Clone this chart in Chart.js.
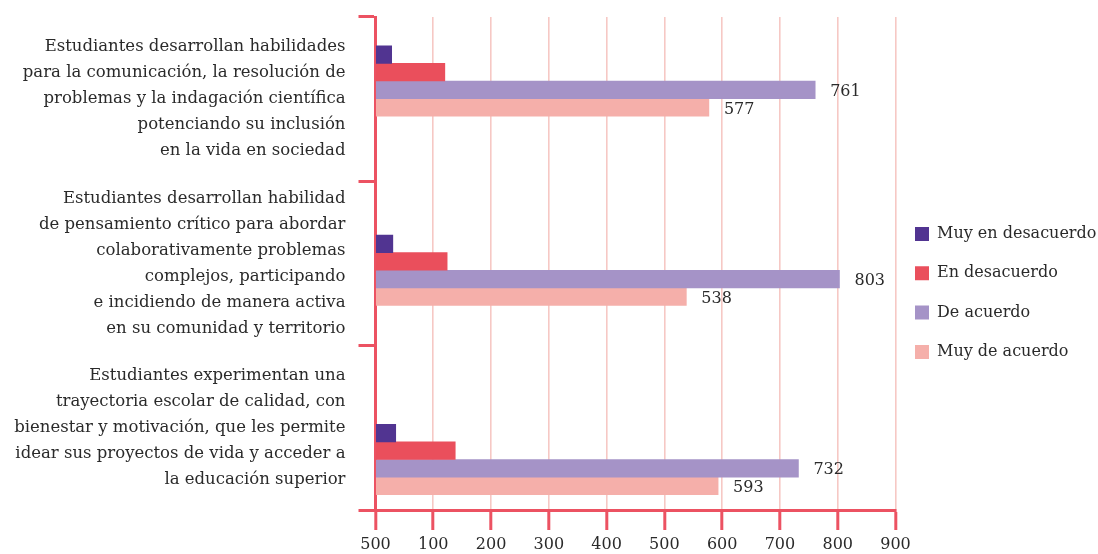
<!DOCTYPE html>
<html>
<head>
<meta charset="utf-8">
<script src="https://cdn.jsdelivr.net/npm/chart.js@4"></script>
<style>
  html, body { margin: 0; padding: 0; background: #ffffff; }
  #wrap { width: 1098px; height: 554px; }
</style>
</head>
<body>
<div id="wrap"><canvas id="c" width="1098" height="554"></canvas></div>
<script>
// Survey statements (multi-line category labels)
const categories = [
  ["Estudiantes desarrollan habilidades", "para la comunicación, la resolución de", "problemas y la indagación científica", "potenciando su inclusión", "en la vida en sociedad"],
  ["Estudiantes desarrollan habilidad", "de pensamiento crítico para abordar", "colaborativamente problemas", "complejos, participando", "e incidiendo de manera activa", "en su comunidad y territorio"],
  ["Estudiantes experimentan una", "trayectoria escolar de calidad, con", "bienestar y motivación, que les permite", "idear sus proyectos de vida y acceder a", "la educación superior"]
];

const seriesNames = ["Muy en desacuerdo", "En desacuerdo", "De acuerdo", "Muy de acuerdo"];

// Responses per statement
const muyEnDesacuerdo = [28, 30, 35];
const enDesacuerdo = [120, 124, 138];
const deAcuerdo = [761, 803, 732];
const muyDeAcuerdo = [577, 538, 593];

const xTickLabels = ["500", "100", "200", "300", "400", "500", "600", "700", "800", "900"];

// Series whose values are written next to the bars
const labelledSeries = ["De acuerdo", "Muy de acuerdo"];

const seriesColors = ["#513491", "#ea4f5c", "#a593c7", "#f5afaa"];
const axisRed = "#ec5262";
const gridPink = "#f6c8c4";
const textColor = "#2a2a2a";
const serif = "'DejaVu Serif', 'Liberation Serif', serif";

const seriesValues = [muyEnDesacuerdo, enDesacuerdo, deAcuerdo, muyDeAcuerdo];

const datasets = seriesNames.map((name, s) => ({
  label: name,
  data: seriesValues[s].map((v, i) => ({ x: v, y: i })),
  backgroundColor: seriesColors[s],
  borderWidth: 0,
  yAxisID: "yBars",
  barThickness: 17.6
}));

// Value labels to the right of the bar ends
const valueLabels = {
  id: "valueLabels",
  afterDatasetsDraw(chart) {
    const ctx = chart.ctx;
    ctx.save();
    ctx.font = "16px " + serif;
    ctx.fillStyle = textColor;
    ctx.textAlign = "left";
    ctx.textBaseline = "middle";
    chart.data.datasets.forEach((ds, di) => {
      if (!labelledSeries.includes(ds.label)) return;
      const meta = chart.getDatasetMeta(di);
      meta.data.forEach((bar, i) => {
        ctx.fillText(String(ds.data[i].x), bar.x + 15, bar.y + 2);
      });
    });
    ctx.restore();
  }
};

new Chart(document.getElementById("c"), {
  type: "bar",
  data: { datasets },
  plugins: [valueLabels],
  options: {
    indexAxis: "y",
    responsive: false,
    animation: false,
    devicePixelRatio: 1,
    layout: { padding: { top: 17, left: 0, right: 0, bottom: 0 } },
    plugins: {
      tooltip: { enabled: false },
      legend: {
        position: "right",
        align: "center",
        maxWidth: 202.5,
        title: { display: true, text: " ", font: { size: 10, lineHeight: 1 }, padding: { top: 8.7, bottom: 0 } },
        labels: {
          boxWidth: 14,
          boxHeight: 14,
          padding: 19.5,
          color: textColor,
          font: { family: serif, size: 16, lineHeight: 19.8 / 16 },
          // single-line arrays so each entry takes the font line height
          generateLabels(chart) {
            const items = Chart.defaults.plugins.legend.labels.generateLabels(chart);
            items.forEach(it => { it.text = [it.text]; });
            return items;
          }
        }
      }
    },
    scales: {
      x: {
        type: "linear",
        min: 0,
        max: 900,
        afterFit(scale) { scale.height = 44; },
        ticks: {
          stepSize: 100,
          padding: 5,
          color: textColor,
          font: { family: serif, size: 16 },
          callback: (value, index) => xTickLabels[index]
        },
        grid: {
          color: gridPink,
          lineWidth: 1.6,
          tickColor: axisRed,
          tickWidth: 3,
          tickLength: 20
        },
        border: { display: true, color: axisRed, width: 3 }
      },
      y: {
        type: "category",
        position: "left",
        labels: categories,
        offset: true,
        z: 1,
        afterFit(scale) {
          scale.width = 375.5;
          scale.paddingTop = 0;
          scale.paddingBottom = 0;
        },
        ticks: {
          autoSkip: false,
          padding: 13,
          color: textColor,
          font: { family: serif, size: 16.5, lineHeight: 26 / 16.5 }
        },
        grid: {
          offset: true,
          drawOnChartArea: false,
          drawTicks: true,
          tickLength: 17,
          color: axisRed,
          lineWidth: 3
        },
        border: { display: true, color: axisRed, width: 3 }
      },
      yBars: {
        type: "linear",
        display: false,
        offset: false,
        reverse: true,
        min: -0.3382,
        max: 2.2668
      }
    }
  }
});
</script>
</body>
</html>
